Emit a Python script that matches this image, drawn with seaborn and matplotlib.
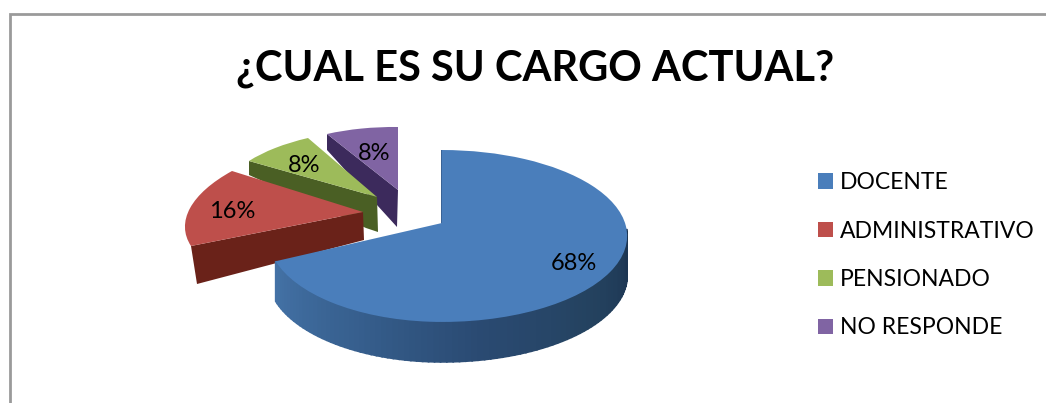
import numpy as np
import matplotlib
matplotlib.use("Agg")
import matplotlib.pyplot as plt
from matplotlib.patches import Polygon
from matplotlib.transforms import Affine2D, Transform
import seaborn as sns

# ---- data ----
TITLE = "¿CUAL ES SU CARGO ACTUAL?"
categories = ["DOCENTE", "ADMINISTRATIVO", "PENSIONADO", "NO RESPONDE"]
values = [68, 16, 8, 8]
colors = ["#4A7EBB", "#BE4F4B", "#9DBB5A", "#8064A3"]

sns.set_theme(style="white")
plt.rcParams["font.family"] = ["Lato", "DejaVu Sans"]

fig = plt.figure(figsize=(10.46, 4.03), dpi=100)
ax = fig.add_axes([0, 0, 1, 1])

palette = sns.color_palette(colors)
wedges, _, autotexts = ax.pie(values, colors=palette, startangle=90, counterclock=False,
                              autopct="%.0f%%", wedgeprops=dict(linewidth=0))
ax.set_aspect("auto")
ax.set_xlim(0, 1046)
ax.set_ylim(403, 0)
ax.axis("off")

# slice boundaries (degrees), from the values
edges = 90 - 360 * np.cumsum([0] + values) / np.sum(values)


class Perspective(Transform):
    """Tilted-disc projection of the unit pie onto page pixels."""
    input_dims = 2
    output_dims = 2
    K, B, AL, AR, CX, CY = 0.151, 84.0, 172.0, 183.0, 442.0, 223.0

    def transform_non_affine(self, xy):
        xy = np.asarray(xy, float)
        u, v = xy[:, 0], xy[:, 1]
        den = 1 + self.K * v
        a = np.where(u < 0, self.AL, self.AR)
        return np.column_stack([self.CX + a * u / den, self.CY - self.B * v / den])


def sector_affine(t1, t2, apex, c1, c2):
    p = np.array([[np.cos(np.radians(t1)), np.cos(np.radians(t2))],
                  [np.sin(np.radians(t1)), np.sin(np.radians(t2))]])
    q = np.array([[c1[0] - apex[0], c2[0] - apex[0]],
                  [c1[1] - apex[1], c2[1] - apex[1]]])
    m = q @ np.linalg.inv(p)
    return Affine2D(np.array([[m[0, 0], m[0, 1], apex[0]],
                              [m[1, 0], m[1, 1], apex[1]],
                              [0, 0, 1]]))


persp = Perspective()
wedges[0].set_transform(persp + ax.transData)
wedges[1].set_transform(sector_affine(edges[1], edges[2], (363, 212), (191, 246), (232, 171)) + ax.transData)
wedges[2].set_transform(sector_affine(edges[2], edges[3], (377, 197), (249, 161), (308, 138)) + ax.transData)
wedges[3].set_transform(sector_affine(edges[3], edges[4], (398, 190), (327, 134), (398, 127)) + ax.transData)

# side walls
ax.add_patch(Polygon([(327, 134), (398, 190), (397, 227), (327, 150)], fc="#3C2A5C", ec="none", zorder=1))
ax.add_patch(Polygon([(249, 161), (377, 197), (378, 232), (366, 228), (249, 175)], fc="#4A5F24", ec="none", zorder=2))
ax.add_patch(Polygon([(191, 246), (363, 212), (364, 240), (197, 284)], fc="#6A2219", ec="none", zorder=3))
ax.add_patch(Polygon([(441, 150), (443, 150), (443, 223), (441, 224)], fc="#3A6396", ec="none", zorder=3))

wedges[3].set_zorder(2)
wedges[2].set_zorder(3)
wedges[1].set_zorder(4)

# blue rim, shaded along the arc
depth = 40
th = np.radians(np.linspace(edges[1], -4, 90))
shade = sns.blend_palette(["#4472A6", "#37608F", "#2A4A72", "#24425F", "#1C3552"], n_colors=len(th) - 1)
top = persp.transform(np.column_stack([np.cos(th), np.sin(th)]))
for i in range(len(th) - 1):
    quad = [top[i], top[i + 1], top[i + 1] + [0, depth], top[i] + [0, depth]]
    ax.add_patch(Polygon(quad, fc=shade[i], ec=shade[i], lw=1.2, zorder=5))
wedges[0].set_zorder(6)

# percent labels
label_pos = [(574, 263.5), (232, 211.5), (304, 166), (374, 154)]
for t, pos in zip(autotexts, label_pos):
    t.set_position(pos)
    t.set_ha("center")
    t.set_va("center")
    t.set_fontsize(17)
    t.set_color("black")
    t.set_zorder(10)

# title
ax.text(535, 69, TITLE, ha="center", va="center", fontsize=30, fontweight="bold", color="black")

# frame (top and left only are inside the crop)
ax.plot([10, 10, 1046], [403, 13.5, 13.5], color="#9A9A9A", lw=2, solid_joinstyle="miter", zorder=0)

# legend
ax.legend(wedges, categories, loc="upper left", bbox_to_anchor=(818 / 1046, 1 - 172 / 403),
          bbox_transform=fig.transFigure, frameon=False, fontsize=16.5, handlelength=0.655,
          handleheight=0.655, handletextpad=0.3, labelspacing=1.2, borderpad=0, borderaxespad=0,
          labelcolor="black")

fig.savefig("out.png", dpi=100, facecolor="white")
